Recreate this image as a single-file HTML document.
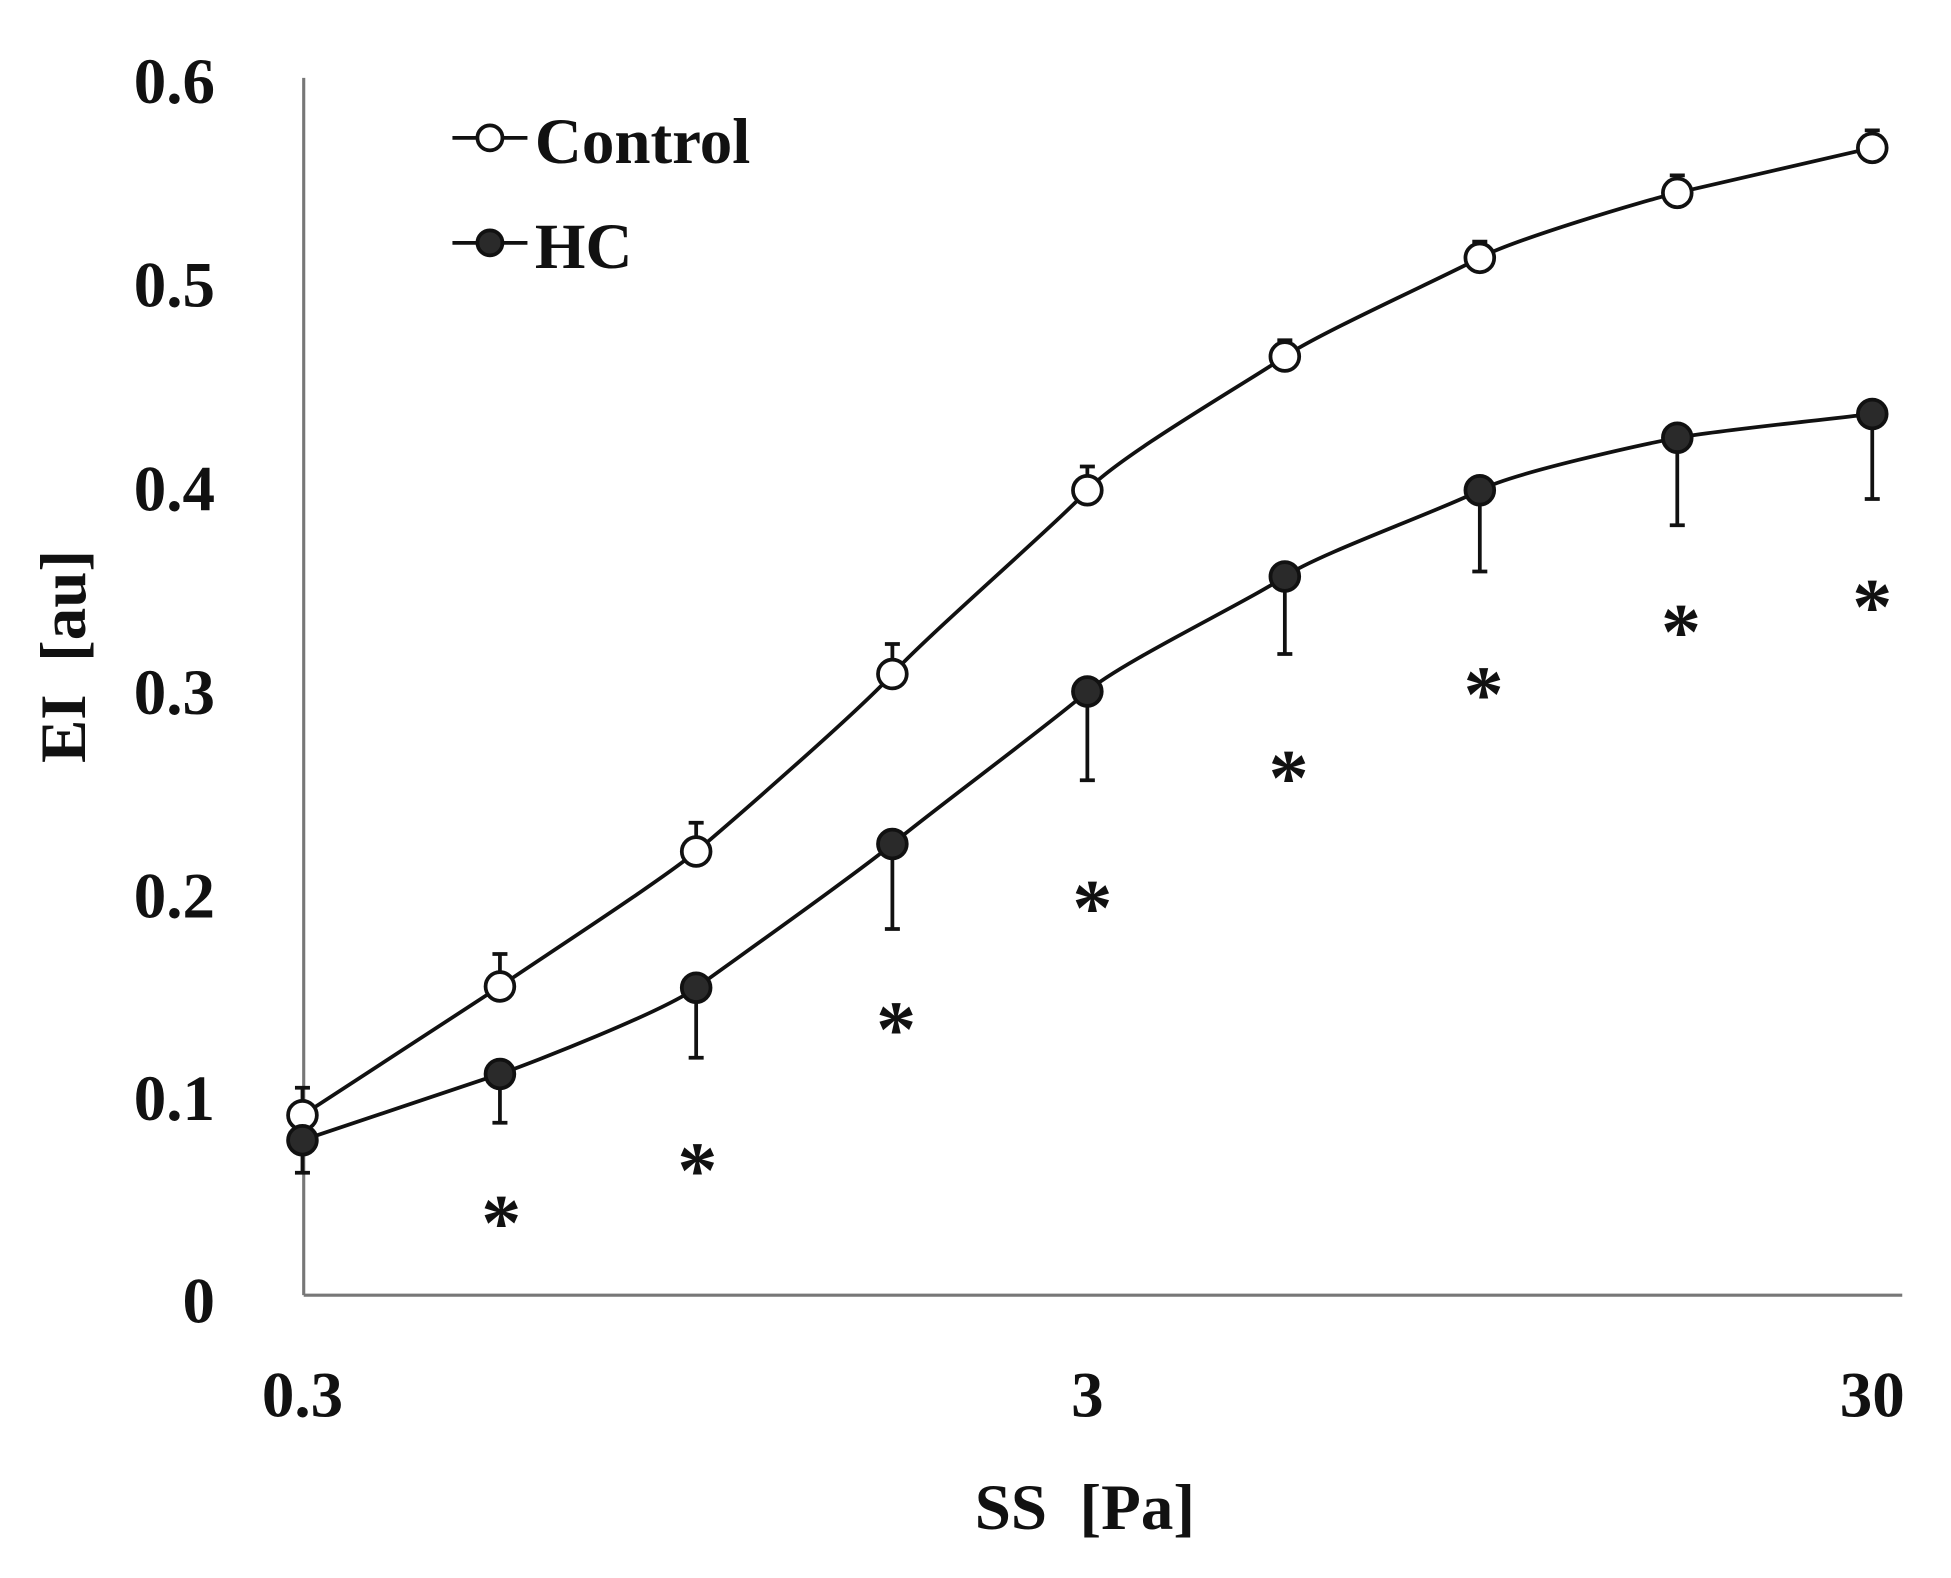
<!DOCTYPE html>
<html><head><meta charset="utf-8"><style>html,body{margin:0;padding:0;background:#fff}svg{display:block}</style></head>
<body>
<svg width="1951" height="1578" viewBox="0 0 1561 1262" xmlns="http://www.w3.org/2000/svg" font-family="Liberation Serif, serif" font-weight="bold">
<rect width="1561" height="1262" fill="#fff"/>
<g stroke="#777" stroke-width="2.5" fill="none">
<line x1="243" y1="62" x2="243" y2="1036"/>
<line x1="243" y1="1036" x2="1522" y2="1036"/>
</g>
<g font-size="52" text-anchor="end" fill="#111">
<text x="172" y="82">0.6</text>
<text x="172" y="245">0.5</text>
<text x="172" y="408">0.4</text>
<text x="172" y="571">0.3</text>
<text x="172" y="734">0.2</text>
<text x="172" y="896">0.1</text>
<text x="172" y="1058">0</text>
</g>
<g font-size="52" text-anchor="middle" fill="#111">
<text x="242" y="1133">0.3</text>
<text x="870" y="1133">3</text>
<text x="1498" y="1133">30</text>
<text x="868" y="1223" xml:space="preserve">SS  [Pa]</text>
<text transform="translate(68,525) rotate(-90)" xml:space="preserve">EI  [au]</text>
</g>
<g stroke="#111" stroke-width="3" fill="none">
<path d="M242 892V870M236 870h12 M400 789V763M394 763h12 M557 681V658M551 658h12 M714 539V515M708 515h12 M870 392V373M864 373h12 M1028 285V272M1022 272h12 M1184 206V193M1178 193h12 M1342 154V140M1336 140h12 M1498 118V104M1492 104h12"/>
<path d="M242 912V938M236 938h12 M400 859V898M394 898h12 M557 790V846M551 846h12 M714 675V743M708 743h12 M870 553V624M864 624h12 M1028 461V523M1022 523h12 M1184 392V457M1178 457h12 M1342 350V420M1336 420h12 M1498 331V399M1492 399h12"/>
<path d="M242,892 C268,875 374,806 400,789 C426,771 531,703 557,681 C583,659 688,568 714,539 C740,510 844,420 870,392 C896,364 1002,303 1028,285 C1054,267 1158,220 1184,206 C1210,192 1316,160 1342,154 C1368,148 1472,124 1498,118"/>
<path d="M242,912 C268,903 374,868 400,859 C426,850 531,809 557,790 C583,771 688,697 714,675 C740,653 844,576 870,553 C896,530 1002,479 1028,461 C1054,443 1158,406 1184,392 C1210,378 1316,355 1342,350 C1368,345 1472,334 1498,331"/>
</g>
<g stroke="#111" stroke-width="3" fill="#fff">
<circle cx="242" cy="892" r="11.5"/><circle cx="400" cy="789" r="11.5"/><circle cx="557" cy="681" r="11.5"/><circle cx="714" cy="539" r="11.5"/><circle cx="870" cy="392" r="11.5"/><circle cx="1028" cy="285" r="11.5"/><circle cx="1184" cy="206" r="11.5"/><circle cx="1342" cy="154" r="11.5"/><circle cx="1498" cy="118" r="11.5"/>
</g>
<g stroke="#111" stroke-width="3" fill="#2a2a2a">
<circle cx="242" cy="912" r="11.5"/><circle cx="400" cy="859" r="11.5"/><circle cx="557" cy="790" r="11.5"/><circle cx="714" cy="675" r="11.5"/><circle cx="870" cy="553" r="11.5"/><circle cx="1028" cy="461" r="11.5"/><circle cx="1184" cy="392" r="11.5"/><circle cx="1342" cy="350" r="11.5"/><circle cx="1498" cy="331" r="11.5"/>
</g>
<g font-size="64" text-anchor="middle" fill="#111">
<text x="401" y="1000">*</text><text x="558" y="958">*</text><text x="717" y="845">*</text><text x="874" y="748">*</text><text x="1031" y="644">*</text><text x="1187" y="577">*</text><text x="1345" y="527">*</text><text x="1498" y="507">*</text>
</g>
<g stroke="#111" stroke-width="3">
<line x1="362" y1="110" x2="422" y2="110"/><circle cx="392" cy="110" r="10" fill="#fff"/>
<line x1="362" y1="194" x2="422" y2="194"/><circle cx="392" cy="194" r="10" fill="#2a2a2a"/>
</g>
<g font-size="52" fill="#111">
<text x="428" y="130">Control</text>
<text x="428" y="214">HC</text>
</g>
</svg>
</body></html>
